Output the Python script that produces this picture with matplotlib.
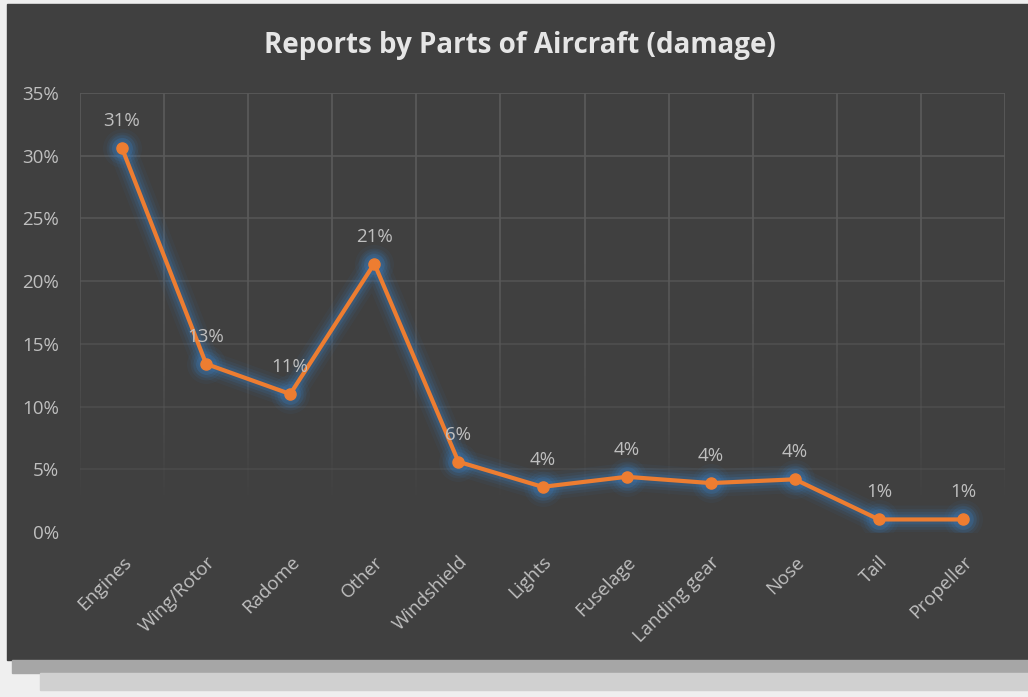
import matplotlib
matplotlib.use("Agg")
import matplotlib.pyplot as plt
from matplotlib.patches import Rectangle
import numpy as np

# Share of damage reports by part of aircraft (%)
parts = ["Engines", "Wing/Rotor", "Radome", "Other", "Windshield", "Lights",
         "Fuselage", "Landing gear", "Nose", "Tail", "Propeller"]
share = [30.6, 13.4, 11.0, 21.4, 5.6, 3.6, 4.4, 3.9, 4.2, 1.0, 1.0]
yticks = [0, 5, 10, 15, 20, 25, 30, 35]

bg = "#404040"
txt = "#bfbfbf"
orange = "#ed7d31"
glow = "#3a7fc4"
font = "Open Sans"

fig = plt.figure(figsize=(10.28, 6.97), dpi=100, facecolor="#efefef")

# screenshot frame: dark chart area plus shadow strips under it
fig.patches.append(Rectangle((7 / 1028, 1 - 660 / 697), 1, 656 / 697,
                             transform=fig.transFigure, color=bg, zorder=-10))
fig.patches.append(Rectangle((12 / 1028, 1 - 673 / 697), 1, 13 / 697,
                             transform=fig.transFigure, color="#a6a6a6", zorder=-10))
fig.patches.append(Rectangle((40 / 1028, 1 - 690 / 697), 1, 17 / 697,
                             transform=fig.transFigure, color="#d0d0d0", zorder=-10))

ax = fig.add_axes([80 / 1028, 1 - 532 / 697, 925 / 1028, 439 / 697])
ax.set_facecolor("none")
x = np.arange(len(parts))
ax.set_xlim(-0.5, len(parts) - 0.5)
ax.set_ylim(0, 35)

# grid lines that fade towards the bottom
for v in yticks:
    a = 0.25 + 0.75 * (v / 35)
    ax.axhline(v, color="#595959", lw=1.3, alpha=a if v > 0 else 0.0, zorder=1)
ys = np.linspace(0, 35, 60)
for b in np.arange(-0.5, len(parts), 1.0):
    for y0, y1 in zip(ys[:-1], ys[1:]):
        a = min(1.0, max(0.0, (y0 - 1.5) / 20))
        ax.plot([b, b], [y0, y1], color="#595959", lw=1.3, alpha=a, zorder=1,
                solid_capstyle="butt")

# blue glow under the line
for lw, a in [(20, 0.06), (15, 0.09), (11, 0.13), (7, 0.2)]:
    ax.plot(x, share, color=glow, lw=lw, alpha=a, solid_joinstyle="round",
            solid_capstyle="round", zorder=2)
    ax.plot(x, share, "o", color=glow, ms=lw + 8, alpha=a, mew=0, zorder=2)

ax.plot(x, share, color=orange, lw=3, marker="o", ms=8, zorder=3)

for xi, v in zip(x, share):
    ax.annotate(f"{v:.0f}%", (xi, v), xytext=(0, 13), textcoords="offset points",
                ha="center", va="bottom", color=txt, fontsize=13.5, family=font,
                zorder=4)

ax.set_yticks(yticks)
ax.set_yticklabels([f"{v}%" for v in yticks], family=font, fontsize=13.5, color=txt)
ax.set_xticks(x)
ax.set_xticklabels(parts, rotation=45, ha="right", rotation_mode="anchor",
                   family=font, fontsize=13.5, color=txt)
ax.tick_params(length=0, pad=15)
ax.tick_params(axis="y", pad=15)
for s in ax.spines.values():
    s.set_visible(False)

fig.text(0.506, 1 - 45 / 697, "Reports by Parts of Aircraft (damage)",
         ha="center", va="center", color="#e6e6e6", fontsize=20,
         fontweight="bold", family=font)

fig.savefig("out.png", dpi=100, facecolor=fig.get_facecolor())
